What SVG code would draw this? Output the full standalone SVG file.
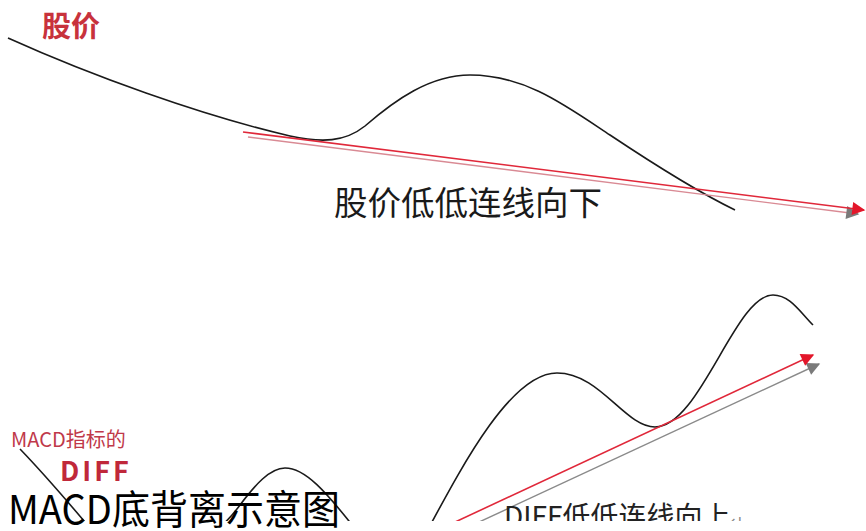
<svg xmlns="http://www.w3.org/2000/svg" width="866" height="531" viewBox="0 0 866 531">
<defs>
<style>
.curve{fill:none;stroke:#1a1a1a;stroke-width:1.6}
.red{fill:none;stroke:#e0283a;stroke-width:1.6}
.gray{fill:none;stroke:#8a8a8a;stroke-width:1.4}
.pink{fill:none;stroke:#d98a94;stroke-width:1.4}
.lbl{font-family:"Noto Sans CJK SC","Noto Sans",sans-serif}
</style>
<clipPath id="cut"><rect x="0" y="0" width="866" height="521"/></clipPath>
<marker id="ahRed" viewBox="0 0 10 10" refX="9" refY="5" markerWidth="15" markerHeight="13" markerUnits="userSpaceOnUse" orient="auto"><path d="M0,0 L10,5 L0,10 z" fill="#e3162a"/></marker>
<marker id="ahGray" viewBox="0 0 10 10" refX="9" refY="5" markerWidth="15" markerHeight="13" markerUnits="userSpaceOnUse" orient="auto"><path d="M0,0 L10,5 L0,10 z" fill="#7a7a7a"/></marker>
</defs>
<rect width="866" height="531" fill="#ffffff"/>

<g id="price-label"><text class="lbl" x="42" y="37" font-size="29" font-weight="bold" fill="#c8323c">股价</text></g>

<g id="price-curve"><path class="curve" d="M8,38 C90,75 200,115 290,136 C322,143 345,142 365,126 C395,100 430,75 470,75 C525,75 565,105 610,135 C655,165 700,193 735,210"/></g>

<g id="price-text"><text class="lbl" x="334" y="215" font-size="33" fill="#1a1a1a" textLength="268" lengthAdjust="spacingAndGlyphs">股价低低连线向下</text></g>

<g id="diff-label">
<text class="lbl" x="11" y="447" font-size="20" fill="#c0394a">MACD指标的</text>
<text class="lbl" x="60" y="481" font-size="27" font-weight="bold" fill="#c0283a" letter-spacing="3">DIFF</text>
</g>

<g id="diff-curve" clip-path="url(#cut)">
<path class="curve" d="M20,449 C45,475 75,510 100,540 C130,575 200,560 240,505 C255,485 270,468 285,468 C305,468 325,490 360,535"/>
<path class="curve" d="M425,535 C460,470 510,373 557,373 C600,373 625,427 655,427 C700,427 735,295 773,295 C790,295 800,312 813,325"/>
</g>

<g id="connectors">
<line class="pink" x1="248" y1="137" x2="858" y2="214" marker-end="url(#ahGray)"/>
<line class="red" x1="243" y1="132" x2="864" y2="210" marker-end="url(#ahRed)"/>
<g clip-path="url(#cut)">
<line class="gray" x1="477" y1="523" x2="819" y2="364" marker-end="url(#ahGray)"/>
<line class="red" x1="453" y1="523" x2="813" y2="355" marker-end="url(#ahRed)"/>
</g>
</g>

<g id="diff-text" clip-path="url(#cut)"><text class="lbl" x="504" y="527" font-size="28" fill="#222222">DIFF低低连线向上<tspan font-size="16" fill="#888888">↵</tspan></text></g>

<g id="caption"><text class="lbl" x="8" y="524" font-size="40" fill="#000000" textLength="332" lengthAdjust="spacingAndGlyphs">MACD底背离示意图</text></g>
</svg>
